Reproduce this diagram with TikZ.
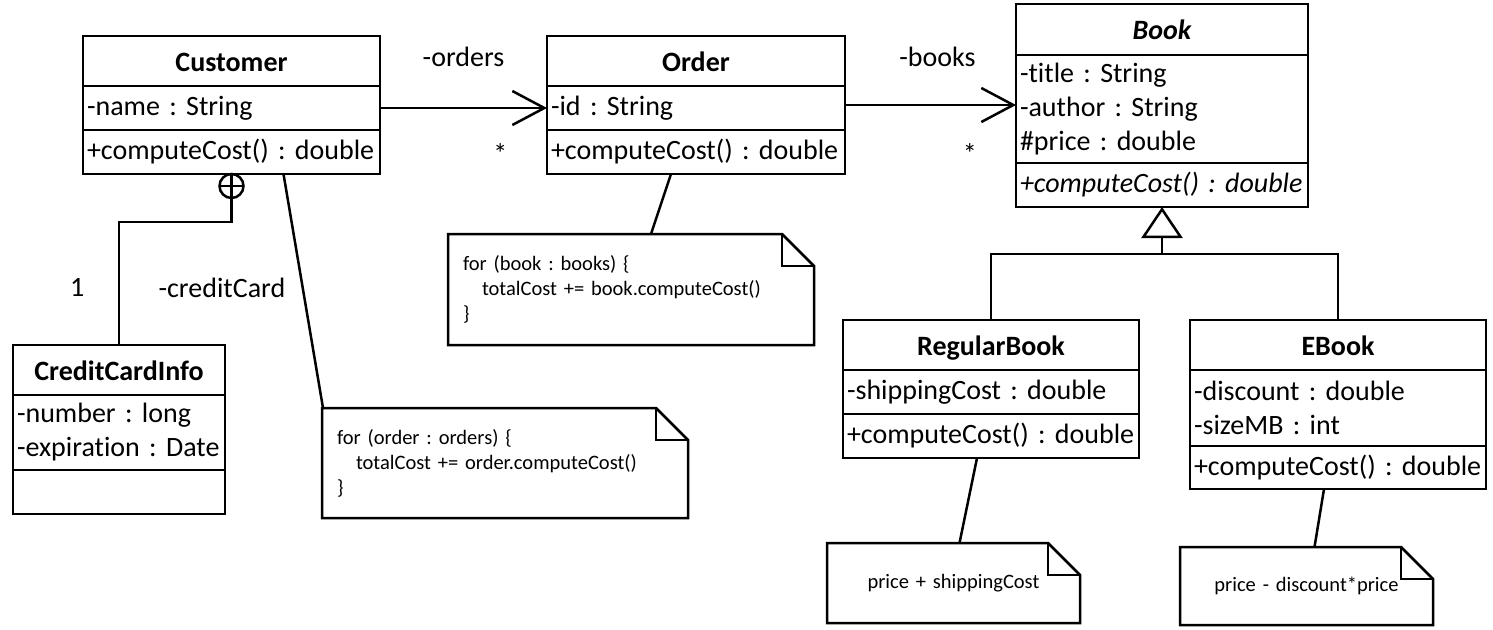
\documentclass[tikz,border=0pt]{standalone}
\usepackage{fontspec}
\setmainfont{Carlito}[Ligatures=NoCommon, WordSpace=0.8]
\usetikzlibrary{positioning,arrows.meta}
\frenchspacing
\hyphenpenalty=10000

\newcommand\classfont{\fontsize{28}{34}\selectfont}
\newcommand\notefont{\fontsize{20.5}{25}\selectfont}
\newcommand\foldsize{32pt}
% outline of a note with its folded corner
\newcommand\notefold[1]{%
  \draw (#1.north west) -- ([xshift=-\foldsize]#1.north east) -- ([yshift=-\foldsize]#1.north east)
    -- (#1.south east) -- (#1.south west) -- cycle;
  \draw ([xshift=-\foldsize]#1.north east) |- ([yshift=-\foldsize]#1.north east);
}

\tikzset{
  box/.style={draw, inner sep=0pt, outer sep=0pt},
  head/.style 2 args={box, minimum width=#1, minimum height=#2, text height=20pt, text depth=0pt, anchor=north west, font=\classfont\bfseries},
  sect/.style 2 args={box, minimum width=#1, text width=#1-8pt, minimum height=#2, inner xsep=4pt, align=left, font=\classfont},
  note/.style 2 args={minimum width=#1, minimum height=#2, text width=#1-30pt, inner sep=0pt, outer sep=0pt, anchor=north west, align=left, font=\notefont},
  assoc/.style={-{Straight Barb[length=32pt, width=34pt]}},
  inherit/.style={-{Triangle[open, length=31pt, width=41pt]}},
}

\begin{document}
\begin{tikzpicture}[x=1pt, y=-1pt, line width=2.5pt, font=\classfont]

    \useasboundingbox (0,0) rectangle (1493,629);

    % the classes
    \node[head={297pt}{50pt}] (cust) at (83,36) {Customer};
    \node[sect={297pt}{44pt}, below=0pt of cust] (cust-a) {-name~:~String};
    \node[sect={297pt}{44pt}, below=0pt of cust-a] (cust-o) {+computeCost()~:~double};

    \node[head={298pt}{50pt}] (ord) at (547,36) {Order};
    \node[sect={298pt}{44pt}, below=0pt of ord] (ord-a) {-id~:~String};
    \node[sect={298pt}{44pt}, below=0pt of ord-a] (ord-o) {+computeCost()~:~double};

    \node[head={292pt}{51pt}, font=\classfont\bfseries\itshape] (book) at (1016,4) {Book};
    \node[sect={292pt}{108pt}, below=0pt of book] (book-a) {-title~:~String\\-author~:~String\\\#price~:~double};
    \node[sect={292pt}{44pt}, below=0pt of book-a, font=\classfont\itshape] (book-o) {+computeCost()~:~double};

    \node[head={212pt}{50pt}] (cc) at (13,345) {CreditCardInfo};
    \node[sect={212pt}{75pt}, below=0pt of cc] (cc-a) {-number~:~long\\-expiration~:~Date};
    \node[sect={212pt}{44pt}, below=0pt of cc-a] (cc-o) {};

    \node[head={296pt}{50pt}] (rb) at (843,320) {RegularBook};
    \node[sect={296pt}{44pt}, below=0pt of rb] (rb-a) {-shippingCost~:~double};
    \node[sect={296pt}{44pt}, below=0pt of rb-a] (rb-o) {+computeCost()~:~double};

    \node[head={296pt}{50pt}] (eb) at (1190,320) {EBook};
    \node[sect={296pt}{76pt}, below=0pt of eb] (eb-a) {-discount~:~double\\-sizeMB~:~int};
    \node[sect={296pt}{43pt}, below=0pt of eb-a] (eb-o) {+computeCost()~:~double};

    % the notes
    \node[note={366pt}{110pt}] (custnote) at (322,408) {for (order : orders) \{\\\hspace*{19pt}totalCost += order.computeCost()\\\}};
    \notefold{custnote}
    \node[note={366pt}{111pt}] (ordnote) at (448,234) {for (book : books) \{\\\hspace*{19pt}totalCost += book.computeCost()\\\}};
    \notefold{ordnote}
    \node[note={253pt}{80pt}, align=center] (rbnote) at (827,543) {price + shippingCost};
    \notefold{rbnote}
    \node[note={253pt}{78pt}, align=center] (ebnote) at (1180,547) {price - discount*price};
    \notefold{ebnote}

    % associations
    \draw[assoc] (cust-a.east) -- (ord-a.west)
        node[midway, yshift=51pt] (lbl-orders) {-orders}
        node[pos=0.72, yshift=-46pt] (mul-orders) {*};
    \draw[assoc] ([yshift=3pt]ord-a.east) -- ([yshift=3pt]ord-a.east -| book-a.west)
        node[midway, xshift=7pt, yshift=48pt] (lbl-books) {-books}
        node[pos=0.73, yshift=-49pt] (mul-books) {*};

    % nesting of CreditCardInfo in Customer
    \node[box, circle, minimum size=24pt] (nest) at ([yshift=-12pt]cust-o.south) {};
    \draw (nest.north) -- (nest.south) (nest.west) -- (nest.east);
    \draw (nest.south) -- ++(0,24) -| (cc.north)
        node[pos=0.75, left=30pt, yshift=-4pt] (mul-card) {1}
        node[pos=0.75, right=35pt, yshift=-4pt] (lbl-card) {-creditCard};

    % generalization
    \coordinate (genjoin) at ([yshift=-47pt]book-o.south);
    \draw (rb.north) |- (genjoin) -| (eb.north);
    \draw[inherit] (genjoin) -- (book-o.south);

    % note anchors
    \draw ([xshift=52pt]cust-o.south) -- ([xshift=1pt]custnote.north west);
    \draw ([xshift=-25pt]ord-o.south) -- ([xshift=20pt]ordnote.north);
    \draw ([xshift=-14pt]rb-o.south) -- ([xshift=6pt]rbnote.north);
    \draw ([xshift=-14pt]eb-o.south) -- ([xshift=8pt]ebnote.north);

\end{tikzpicture}
\end{document}
